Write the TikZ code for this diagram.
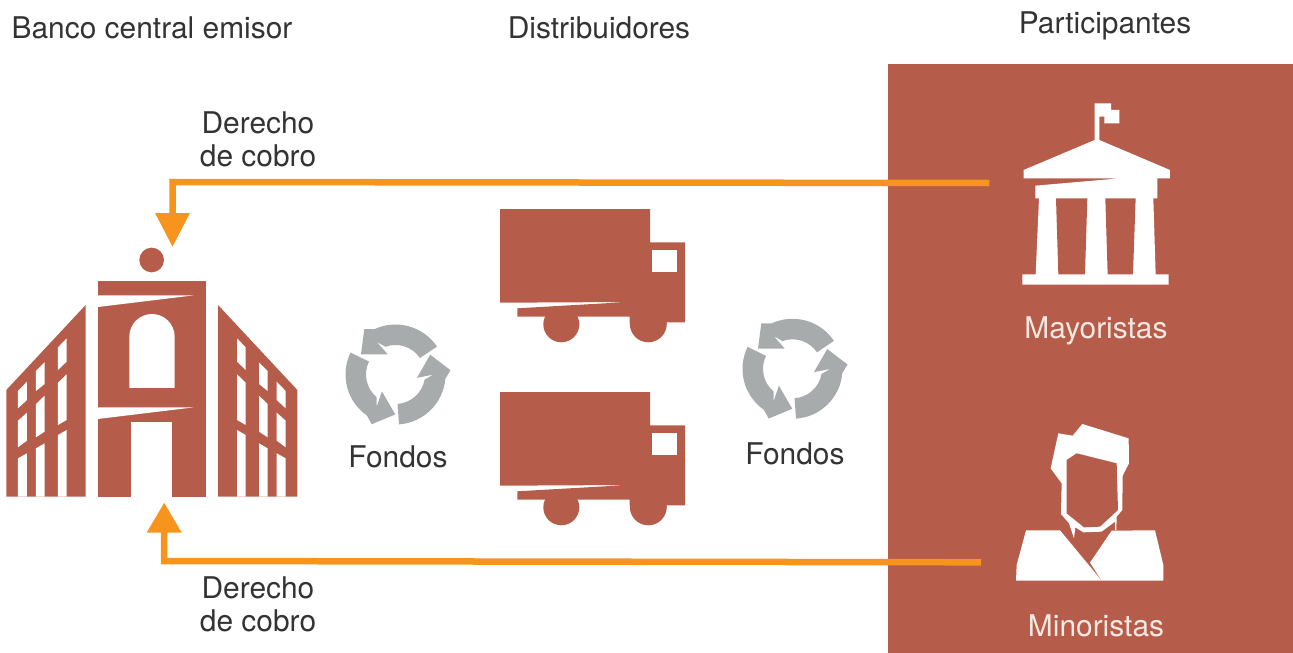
\documentclass[tikz,border=0pt]{standalone}
\usepackage{fontspec}
\setmainfont{TeX Gyre Heros}
\usetikzlibrary{positioning,arrows.meta}
\definecolor{ladrillo}{RGB}{181,93,74}
\definecolor{naranja}{RGB}{247,148,29}
\definecolor{gris}{RGB}{167,171,172}
\definecolor{tinta}{RGB}{51,51,51}
\definecolor{crema}{RGB}{248,232,226}

\begin{document}
\begin{tikzpicture}
[x=1pt,y=-1pt,
 lbl/.style={font=\fontsize{29.9}{33}\selectfont,text=tinta,inner sep=0pt,outer sep=0pt,text height=21pt,text depth=6pt},
 lblB/.style={font=\fontsize{29.9}{33}\selectfont,text=tinta,inner sep=0pt,outer sep=0pt,align=center},
 lblP/.style={lbl,text=crema},
 panel/.style={fill=ladrillo,minimum width=405pt,minimum height=589pt,inner sep=0pt,outer sep=0pt,anchor=north west},
 flecha/.style={draw=naranja,line width=6.5pt,-{Triangle[length=#1,width=33pt]}},
 ala/.pic={
  \fill[ladrillo] (257,225) -- (19,480) -- (19,800) -- (257,800) -- cycle;
  \foreach \xa/\xb/\ya/\yb/\yc/\yd in {54/81/483/455/510/535,54/81/572/548/632/652,54/81/685/670/800/800,
                                       108/134/423/397/462/483,108/134/522/497/605/622,108/134/655/640/800/800,
                                       174/200/352/325/395/420,174/200/458/433/570/585,174/200/615/600/800/800}
   \fill[white] (\xa,\ya) -- (\xb,\yb) -- (\xb,\yc) -- (\xa,\yd) -- cycle;
 },
 banco/.pic={
  \fill[ladrillo] (455,90) circle[radius=37pt];
  \fill[ladrillo] (294,152) rectangle (618,800);
  \fill[white] (294,196) -- (582,196) -- (294,231) -- cycle;
  \fill[white] (294,532) -- (582,532) -- (294,567) -- cycle;
  \fill[white] (388,474) -- (388,320) arc[start angle=180,end angle=0,radius=68pt] -- (524,474) -- cycle;
  \fill[white] (394,576) rectangle (516,800);
 },
 camion/.pic={
  \fill[ladrillo] (0,0) -- (150,0) -- (150,33.3) -- (185,33.3) -- (185,113.3) -- (129.5,113.3) -- (129.5,107.7)
                  -- (17.3,107.7) -- (17.3,99.3) -- (128,93) -- (0,93.7) -- cycle;
  \fill[ladrillo] (148.3,114.8) circle[radius=18.5pt];
  \fill[ladrillo] (61.3,115.3) circle[radius=18pt];
  \fill[white] (151.7,41) rectangle (176.7,62.7);
 },
 ciclo/.pic={
  \foreach \ang in {0,120,240}
   \fill[gris,rotate=\ang] (34:50pt) arc[start angle=34,end angle=115,radius=50pt] -- (-31.2,-45.5) -- (-34.5,-20.2)
        -- (-7.8,-20.2) -- (-18.8,-32.8) -- (110:29.5pt) arc[start angle=110,end angle=34,radius=29.5pt] -- cycle;
 },
 edificio/.pic={
  \fill[white] (284,40) -- (333,40) -- (333,60) -- (358,60) -- (358,100) -- (313,100) -- (313,80) -- (298,80) -- (298,150)
        -- (510,240) -- (510,265) -- (472,265) -- (472,325) -- (460,325) -- (467,553) -- (506,553) -- (506,584)
        -- (67,584) -- (67,553) -- (107,553) -- (117,325) -- (106,325) -- (106,287) -- (360,265) -- (71,265) -- (71,240)
        -- (284,150) -- cycle;
  \fill[ladrillo] (168,325) -- (262,325) -- (255,553) -- (175,553) -- cycle;
  \fill[ladrillo] (316,325) -- (407,325) -- (399,553) -- (323,553) -- cycle;
 },
 persona/.pic={
  \fill[white] (247,42) -- (386,85) -- (387,160) -- (368,197) -- (367,300) -- (350,320) -- (349,360) -- (345,360) -- (345,335)
        -- (305,365) -- (250,367) -- (226,352) -- (222,385) -- (207,340) -- (183,312) -- (185,220) -- (152,175)
        -- (175,70) -- (218,77) -- cycle;
  \fill[ladrillo] (200,150) -- (230,130) -- (350,160) -- (354,300) -- (300,350) -- (252,352) -- (200,310) -- cycle;
  \fill[white] (78,361) -- (180,361) -- (305,512) -- (48,512) -- (50,465) -- cycle;
  \fill[white] (270,458) -- (335,362) -- (465,361) -- (490,465) -- (490,512) -- (305,512) -- cycle;
 }]
\useasboundingbox (0,0) rectangle (1293,653);
\node[panel] (part) at (888,64) {};

\node[lbl]  (tBanco) at (152,30.5)                                    {Banco central emisor};
\node[lbl]  (tDist)  [on grid,right=447pt of tBanco]                  {Distribuidores};
\node[lbl]  (tPart)  [on grid,above right=5pt and 506pt of tDist]     {Participantes};
\node[lblB] (cobA)   [on grid,below right=109pt and 106pt of tBanco]  {Derecho\\de cobro};
\node[lblB] (cobB)   [on grid,below=464.5pt of cobA]                  {Derecho\\de cobro};
\node[lbl]  (fonA)   at (398,460)                                     {Fondos};
\node[lbl]  (fonB)   [on grid,above right=3pt and 397pt of fonA]      {Fondos};
\node[lblP] (tMay)   at (1096,330.5)                                  {Mayoristas};
\node[lblP] (tMin)   [on grid,below=298pt of tMay]                    {Minoristas};

\pic[scale=.3333]                   at (0,230)        {ala};
\pic[xscale=-.3333,yscale=.3333]    at (303.67,230)   {ala};
\pic[scale=.3333]                   at (0,230)        {banco};
\pic                                at (500,209)      {camion};
\pic                                at (500,392)      {camion};
\pic                                at (395.5,374.5)  {ciclo};
\pic                                at (792.5,368.8)  {ciclo};
\pic[scale=.3333]                   at (1000,90)      {edificio};
\pic[scale=.3333]                   at (1000,410)     {persona};

\coordinate (mayIn)  at (989.3,183);
\coordinate (minIn)  at (981,562.3);
\coordinate (esqN)   at (172.5,182);
\coordinate (esqS)   at (164.2,561);
\coordinate (bancoN) at (172.5,247);
\coordinate (bancoS) at (164.2,502.5);
\draw[flecha=34pt] (mayIn) -- (esqN) -- (bancoN);
\draw[flecha=30pt] (minIn) -- (esqS) -- (bancoS);
\end{tikzpicture}
\end{document}
